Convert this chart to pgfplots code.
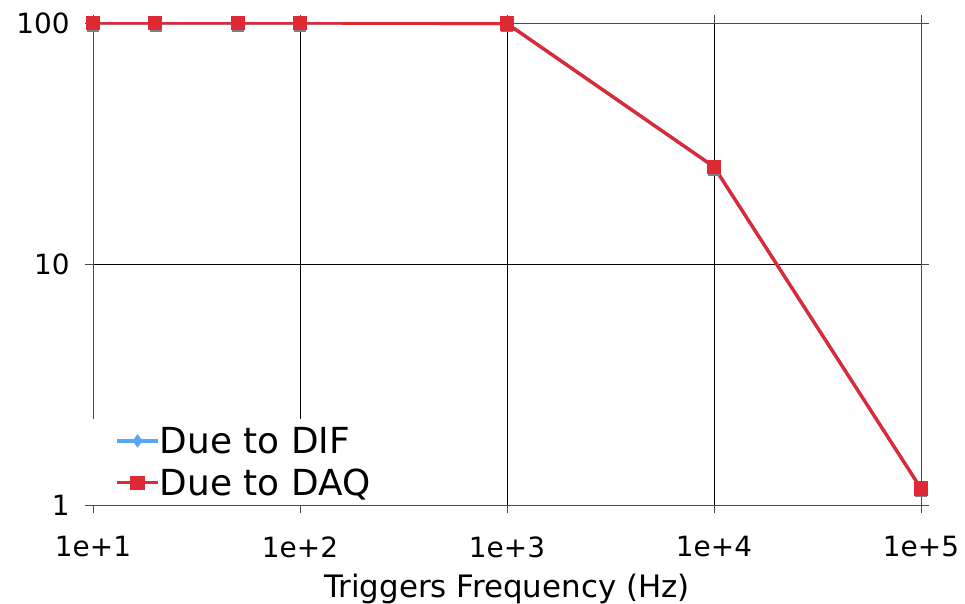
\documentclass[border=0pt]{standalone}
\usepackage{pgfplots}
\pgfplotsset{compat=1.18}
\usepackage{fontspec}
\setmainfont{DejaVu Sans}
\definecolor{daq}{RGB}{222,42,52}
\definecolor{dif}{RGB}{90,165,250}
\begin{document}
\begin{tikzpicture}
\begin{axis}[
  scale only axis, width=828bp, height=482bp,
  xmode=log, ymode=log,
  xmin=10, xmax=100000, ymin=1, ymax=100,
  xtick={10,100,1000,10000,100000},
  xticklabels={1e+1,1e+2,1e+3,1e+4,1e+5},
  ytick={1,10,100}, yticklabels={1,10,100},
  xminorticks=false, yminorticks=false,
  grid=major, major grid style={black, line width=0.7pt},
  axis line style={black!70, line width=0.9pt},
  tick align=outside, major tick length=8bp,
  tick style={black!70, line width=0.8pt},
  ticklabel style={font=\fontsize{28}{34}\selectfont},
  /pgf/number format/assume math mode=true,
  xticklabel style={yshift=-20bp},
  yticklabel style={xshift=-12bp},
  xlabel={Triggers Frequency (Hz)},
  xlabel style={font=\fontsize{31}{36}\selectfont, yshift=-10bp},
  legend style={at={(0,0)}, anchor=south west, draw=none, fill=white,
    font=\fontsize{36}{42}\selectfont, inner xsep=22bp, inner ysep=6bp, row sep=10bp},
  legend cell align=left,
  legend image code/.code={
    \draw[mark repeat=2,mark phase=2,#1] plot coordinates {(0cm,0cm) (0.73cm,0cm) (1.46cm,0cm)};
  },
]
\addplot[only marks, black!50, mark=square*, mark size=5.5bp, mark options={yshift=-2.5bp, fill=black!50, draw=black!50}, forget plot]
  coordinates {(10,100) (20,100) (50,100) (100,100) (1000,99.5) (10000,25.3) (100000,1.17)};
\addplot[dif, line width=3.3bp, mark=diamond*, mark size=4bp, mark options={fill=dif,draw=dif}]
  coordinates {(10,100) (20,100) (50,100) (100,100) (1000,99.5) (10000,25.3) (100000,1.17)};
\addlegendentry{\hspace*{-2bp}Due to DIF}
\addplot[daq, line width=3.3bp, mark=square*, mark size=5.5bp, mark options={fill=daq,draw=daq}]
  coordinates {(10,100) (20,100) (50,100) (100,100) (1000,99.5) (10000,25.3) (100000,1.17)};
\addlegendentry{\hspace*{-2bp}Due to DAQ}
\coordinate (sw) at (rel axis cs:0,0);
\coordinate (ne) at (rel axis cs:1,1);
\end{axis}
\pgfresetboundingbox
\path ([shift={(-93bp,-99bp)}]sw) rectangle ([shift={(44bp,23bp)}]ne);
\end{tikzpicture}
\end{document}
